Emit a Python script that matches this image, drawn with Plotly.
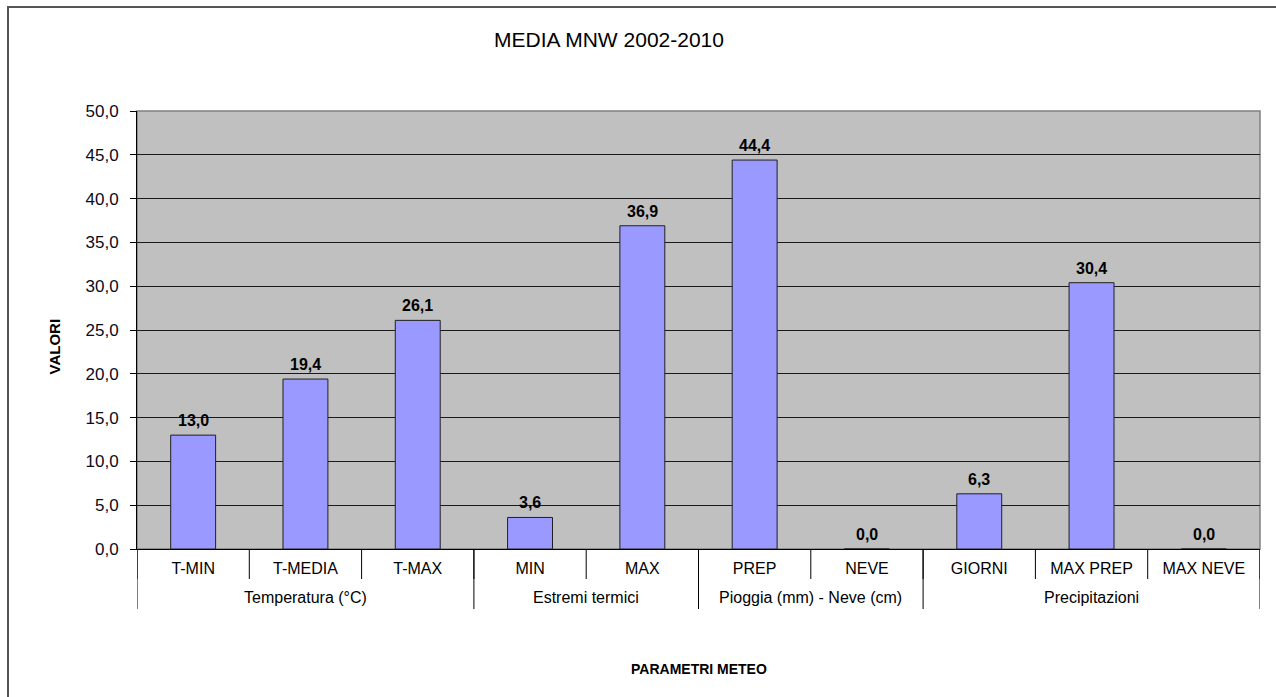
import plotly.graph_objects as go

# Parameter names (inner level) and their groups (outer level)
categories = ["T-MIN", "T-MEDIA", "T-MAX", "MIN", "MAX",
              "PREP", "NEVE", "GIORNI", "MAX PREP", "MAX NEVE"]
groups = ["Temperatura (°C)", "Estremi termici",
          "Pioggia (mm) - Neve (cm)", "Precipitazioni"]
group_sizes = [3, 2, 2, 3]
values = [13.0, 19.4, 26.1, 3.6, 36.9, 44.4, 0.0, 6.3, 30.4, 0.0]
y_ticks = [0, 5, 10, 15, 20, 25, 30, 35, 40, 45, 50]

FONT = "Liberation Sans, Arial, sans-serif"
W, H = 1276, 697
ML, MR, MT, MB = 137, 16, 111, 148
plot_h = H - MT - MB
plot_w = W - ML - MR


def py(px):
    """Pixel row -> paper y."""
    return (H - MB - px) / plot_h


def px_x(px):
    """Pixel column -> paper x."""
    return (px - ML) / plot_w


fig = go.Figure()
fig.add_trace(go.Bar(
    x=categories, y=values,
    marker=dict(color="#9999FF", line=dict(color="#202020", width=1)),
    hoverinfo="x+y",
))

# value labels above each bar
annotations = []
for c, v in zip(categories, values):
    annotations.append(dict(
        x=c, y=v, xref="x", yref="y", text=f"{v:.1f}".replace(".", ","),
        showarrow=False, yanchor="bottom", yshift=4,
        font=dict(family=FONT, size=16, color="#000000", weight="bold"),
    ))

shapes = []
# short separators between inner categories
for i in range(len(categories) + 1):
    shapes.append(dict(type="line", xref="x", yref="paper",
                       x0=i - 0.5, x1=i - 0.5, y0=0, y1=py(579),
                       line=dict(color="#000000", width=1)))
# long separators at group boundaries, plus group labels
pos = 0
bounds = [0]
for g, n in zip(groups, group_sizes):
    annotations.append(dict(
        x=pos + (n - 1) / 2, y=py(597), xref="x", yref="paper", text=g,
        showarrow=False, yanchor="middle",
        font=dict(family=FONT, size=16, color="#000000"),
    ))
    pos += n
    bounds.append(pos)
for b in bounds:
    shapes.append(dict(type="line", xref="x", yref="paper",
                       x0=b - 0.5, x1=b - 0.5, y0=0, y1=py(609),
                       line=dict(color="#000000", width=1)))

# plot-area frame (grey top/right) and outer chart frame
shapes.append(dict(type="rect", xref="paper", yref="paper",
                   x0=0, x1=1, y0=0, y1=1, layer="below",
                   line=dict(color="#808080", width=1.5)))
shapes.append(dict(type="rect", xref="paper", yref="paper",
                   x0=px_x(8), x1=px_x(W + 20), y0=py(H + 20), y1=py(7),
                   line=dict(color="#555555", width=2)))

# axis titles
annotations.append(dict(
    x=px_x(43), y=py(347), xref="paper", yref="paper", text="VALORI",
    textangle=-90, showarrow=False,
    font=dict(family=FONT, size=15, color="#000000", weight="bold"),
))
annotations.append(dict(
    x=0.5, y=py(679), xref="paper", yref="paper", text="PARAMETRI METEO",
    showarrow=False,
    font=dict(family=FONT, size=14, color="#000000", weight="bold"),
))

fig.update_layout(
    width=W, height=H,
    margin=dict(l=ML, r=MR, t=MT, b=MB, pad=0),
    paper_bgcolor="#FFFFFF",
    plot_bgcolor="#C0C0C0",
    separators=",.",
    bargap=0.6,
    showlegend=False,
    title=dict(text="MEDIA MNW 2002-2010", x=609 / W, xanchor="center",
               y=1 - 40 / H, yanchor="middle",
               font=dict(family=FONT, size=21, color="#000000")),
    xaxis=dict(
        type="category", categoryorder="array", categoryarray=categories,
        range=[-0.5, len(categories) - 0.5],
        showgrid=False, ticks="", showline=True, linecolor="#000000",
        linewidth=1, ticklabelstandoff=5,
        tickfont=dict(family=FONT, size=16, color="#000000"),
    ),
    yaxis=dict(
        range=[0, 50], tickvals=y_ticks, tickformat=".1f",
        showgrid=True, gridcolor="#1a1a1a", gridwidth=1,
        ticks="outside", ticklen=6, tickcolor="#000000",
        showline=True, linecolor="#000000", linewidth=1,
        zeroline=False, ticklabelstandoff=8,
        tickfont=dict(family=FONT, size=17, color="#0a0a20"),
    ),
    shapes=shapes,
    annotations=annotations,
)

fig.write_html("out.html")
